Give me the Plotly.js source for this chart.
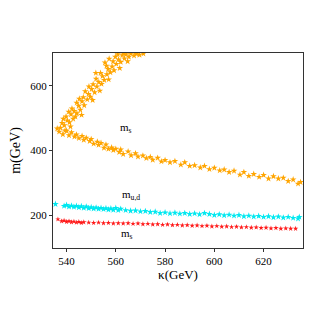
<!DOCTYPE html>
<html>
<head>
<meta charset="utf-8">
<script src="https://cdn.plot.ly/plotly-3.0.1.min.js"></script>
<style>
  html, body { margin: 0; padding: 0; background: #fff; }
  #chart { width: 327px; height: 327px; }
</style>
</head>
<body>
<div id="chart"></div>
<script>
// m_s, upper branch (kappa, m)
const msUpperK = [536.2, 537.5, 538.2, 539.1, 540.3, 539.8, 541.2, 541.8, 542.7, 543.1, 542.2, 544.2, 544.9, 545.6, 544.1, 546.3, 547.2, 546.8, 548.4, 548.9,
  547.6, 549.7, 550.2, 551.4, 550.8, 552.3, 553.1, 552.0, 554.2, 554.6, 555.3, 553.8, 556.4, 556.9, 557.8, 556.2, 558.5, 559.3, 558.9, 560.2,
  561.1, 559.8, 562.0, 562.6, 563.5, 564.2, 565.3, 566.1, 567.4, 568.3, 569.6, 571.2, 543.6, 545.2, 549.1, 551.9, 555.6, 557.3, 560.8, 563.1,
  540.9, 538.7, 546.1, 550.6, 553.5, 557.1, 561.6, 564.8, 539.4, 541.6];
const msUpperM = [468, 470, 485, 478, 493, 505, 487, 512, 498, 522, 530, 515, 538, 526, 548, 552, 540, 565, 558, 575,
  583, 566, 590, 580, 605, 598, 612, 622, 606, 630, 618, 640, 636, 652, 642, 662, 660, 648, 676, 668,
  682, 690, 674, 695, 685, 698, 690, 700, 694, 699, 696, 700, 505, 560, 598, 640, 672, 684, 698, 701,
  520, 498, 510, 556, 585, 620, 655, 676, 462, 474];

// m_s, lower branch
const msLowerK = [537, 538.5, 540, 541, 542, 543.2, 544, 545, 546.3, 547, 548, 549.4, 550, 551, 552.5, 553, 554, 555.2, 556, 557,
  558.3, 559, 560, 561.4, 562, 563, 565, 566.2, 568, 569, 571, 572.4, 574, 575, 577, 578.5, 580, 582, 584, 586.4,
  588, 590, 592, 594.3, 596, 598, 600, 602.2, 604, 606, 608, 610.4, 612, 614, 616, 618.2, 620, 622, 624, 626,
  628, 630, 632, 634, 635];
const msLowerM = [458, 450, 461, 447, 456, 443, 449, 438, 445, 433, 439, 429, 435, 421, 427, 417, 423, 408, 418, 405,
  409, 401, 405, 395, 403, 389, 397, 385, 391, 381, 384, 376, 380, 371, 377, 366, 370, 363, 367, 356,
  363, 352, 354, 347, 352, 342, 346, 338, 341, 333, 337, 325, 333, 321, 327, 318, 324, 313, 320, 313,
  315, 305, 310, 297, 302];

// m_u,d
const mudK = [535.5, 539, 540, 541, 542, 543, 544, 545, 546, 547, 548, 549, 550, 551, 552, 553, 554, 555, 556, 557,
  558, 559, 560, 561, 562, 564, 566, 568, 570, 572, 574, 576, 578, 580, 582, 584, 586, 588, 590, 592,
  594, 596, 598, 600, 602, 604, 606, 608, 610, 612, 614, 616, 618, 620, 622, 624, 626, 628, 630, 632,
  634, 634.5];
const mudM = [234, 228, 231, 226, 229, 225, 228, 224, 227, 222, 226, 221, 224, 220, 223, 219, 222, 218, 221, 217,
  220, 216, 222, 215, 219, 215, 213, 214, 211, 212, 209, 210, 206, 208, 205, 207, 204, 206, 203, 205,
  202, 206, 203, 200, 202, 199, 201, 198, 200, 196, 198, 195, 197, 194, 196, 193, 195, 192, 194, 191,
  189, 194];

// m_s, light branch
const msLightK = [536.5, 538, 539, 540, 541, 542, 543, 544, 545, 546, 547, 549, 551, 553, 555, 557, 559, 561, 563, 565,
  567, 569, 571, 573, 575, 577, 579, 581, 583, 585, 587, 589, 591, 593, 595, 597, 599, 601, 603, 605,
  607, 609, 611, 613, 615, 617, 619, 621, 623, 625, 627, 629, 631, 633];
const msLightM = [187, 181, 183, 179, 181, 178, 180, 177, 179, 176, 178, 177, 176, 177, 175, 176, 174, 175, 174, 175,
  173, 174, 172, 173, 171, 172, 170, 171, 169, 170, 168, 169, 167, 168, 166, 167, 165, 166, 164, 165,
  163, 164, 162, 163, 161, 162, 160, 161, 159, 160, 158, 159, 158, 158];

const font = 'Liberation Serif, Times New Roman, serif';

function stars(x, y, color, size) {
  return {
    x: x, y: y, type: 'scatter', mode: 'markers',
    marker: { symbol: 'star', color: color, size: size, line: { width: 0 } },
    showlegend: false, hoverinfo: 'skip'
  };
}

const data = [
  stars(msUpperK, msUpperM, '#FFA500', 5),
  stars(msLowerK, msLowerM, '#FFA500', 5),
  stars(mudK, mudM, '#00E8F0', 5),
  stars(msLightK, msLightM, '#FF1A1A', 4)
];

const layout = {
  width: 327, height: 327,
  margin: { l: 53, r: 24, t: 53, b: 79 },
  paper_bgcolor: '#fff', plot_bgcolor: '#fff',
  font: { family: font, size: 11, color: '#000' },
  xaxis: {
    range: [534.5, 636], dtick: 20, tick0: 540,
    showgrid: false, zeroline: false,
    ticks: 'outside', ticklen: 3, tickcolor: '#333',
    showline: true, linecolor: '#333', linewidth: 1, mirror: true,
    title: { text: 'κ(GeV)', font: { family: font, size: 13 }, standoff: 0 }
  },
  yaxis: {
    range: [98, 702], dtick: 200, tick0: 0,
    showgrid: false, zeroline: false,
    ticks: 'outside', ticklen: 3, tickcolor: '#333',
    showline: true, linecolor: '#333', linewidth: 1, mirror: true,
    title: { text: 'm(GeV)', font: { family: font, size: 14 }, standoff: 6 }
  },
  annotations: [
    { x: 564, y: 469, text: 'm<sub>s</sub>', showarrow: false, font: { family: font, size: 11 } },
    { x: 566, y: 262, text: 'm<sub>u,d</sub>', showarrow: false, font: { family: font, size: 11 } },
    { x: 564.5, y: 141, text: 'm<sub>s</sub>', showarrow: false, font: { family: font, size: 11 } }
  ]
};

Plotly.newPlot('chart', data, layout, { displayModeBar: false, staticPlot: true });
</script>
</body>
</html>
